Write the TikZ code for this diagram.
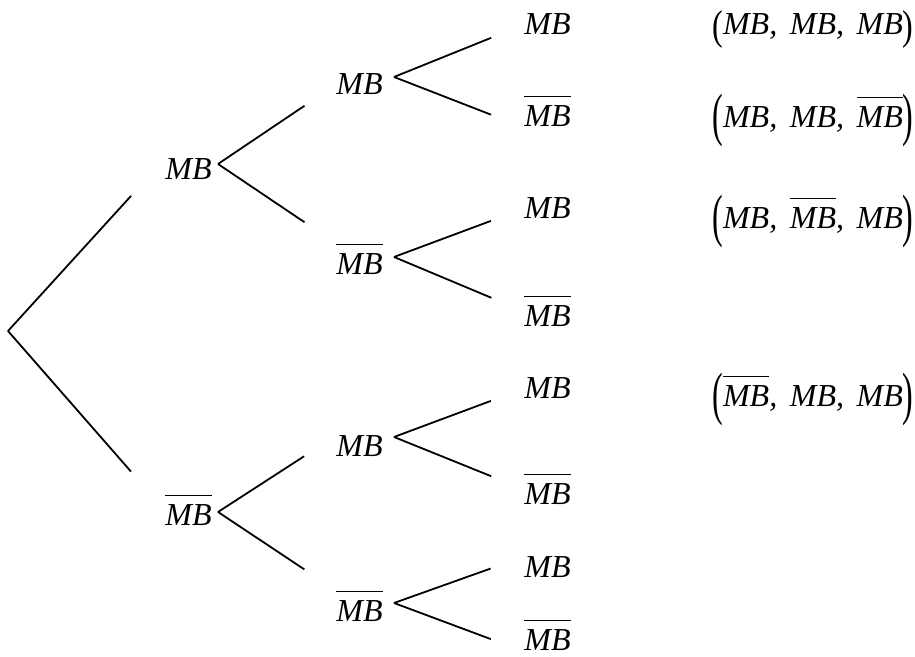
\documentclass[tikz,border=0pt]{standalone}
\usepackage{fontspec}
\setmainfont{Liberation Serif}
\usepackage{graphicx}
\newcommand{\nmb}{\vbox{\hrule height 0.7pt\kern 4.4pt\hbox{MB}}}
\newcommand{\bpar}[3]{\raisebox{#1}{\scalebox{1}[#2]{\upshape #3}}}
\newcommand{\csep}{,\hspace{6.3pt}}

\begin{document}
\begin{tikzpicture}[x=0.5pt, y=0.5pt,
  lbl/.style={anchor=base west, inner sep=0pt, font=\fontsize{16}{18}\selectfont\itshape},
  branch/.style={line width=0.9pt}]
\useasboundingbox (0,0) rectangle (915,657);

\node[lbl] (m) at (165,477) {MB};
\node[lbl] (n) at (165,131) {\nmb};

\node[lbl] (mm) at (336,562) {MB};
\node[lbl] (mn) at (336,382) {\nmb};
\node[lbl] (nm) at (336,200) {MB};
\node[lbl] (nn) at (336,35) {\nmb};

\node[lbl] (mmm) at (524,622) {MB};
\node[lbl] (mmn) at (524,530) {\nmb};
\node[lbl] (mnm) at (524,438) {MB};
\node[lbl] (mnn) at (524,330) {\nmb};
\node[lbl] (nmm) at (524,258) {MB};
\node[lbl] (nmn) at (524,152) {\nmb};
\node[lbl] (nnm) at (524,79) {MB};
\node[lbl] (nnn) at (524,6) {\nmb};

\node[lbl] (tmmm) at (712,622) {\bpar{-2.5pt}{1.3}{(}MB\csep MB\csep MB\bpar{-2.5pt}{1.3}{)}};
\node[lbl] (tmmn) at (712,529) {\bpar{-3.5pt}{1.82}{(}MB\csep MB\csep \nmb\bpar{-3.5pt}{1.82}{)}};
\node[lbl] (tmnm) at (712,428) {\bpar{-3.5pt}{1.82}{(}MB\csep \nmb\csep MB\bpar{-3.5pt}{1.82}{)}};
\node[lbl] (tnmm) at (712,250) {\bpar{-3.5pt}{1.82}{(}\nmb\csep MB\csep MB\bpar{-3.5pt}{1.82}{)}};

\coordinate (root) at (8,326);
\coordinate (vm) at (218,493);
\coordinate (vn) at (218,145);
\coordinate (vmm) at (394,580);
\coordinate (vmn) at (394,400);
\coordinate (vnm) at (394,220);
\coordinate (vnn) at (394,54);

\draw[branch, shorten >=25.2pt] (root) -- (m.north west);
\draw[branch, shorten >=25.8pt] (root) -- (n.west);

\draw[branch, shorten >=19pt] (vm) -- (mm.west);
\draw[branch, shorten >=19pt] (vm) -- (mn.north west);
\draw[branch, shorten >=19pt] (vn) -- (nm.north west);
\draw[branch, shorten >=19pt] (vn) -- (nn.north west);

\draw[branch, shorten >=17.7pt] (vmm) -- (mmm.west);
\draw[branch, shorten >=17.7pt] (vmm) -- (mmn.south west);
\draw[branch, shorten >=17.7pt] (vmn) -- (mnm.west);
\draw[branch, shorten >=17.7pt] (vmn) -- (mnn.west);
\draw[branch, shorten >=17.7pt] (vnm) -- (nmm.west);
\draw[branch, shorten >=17.7pt] (vnm) -- (nmn.west);
\draw[branch, shorten >=17.7pt] (vnn) -- (nnm.north west);
\draw[branch, shorten >=17.7pt] (vnn) -- (nnn.south west);

\end{tikzpicture}
\end{document}
